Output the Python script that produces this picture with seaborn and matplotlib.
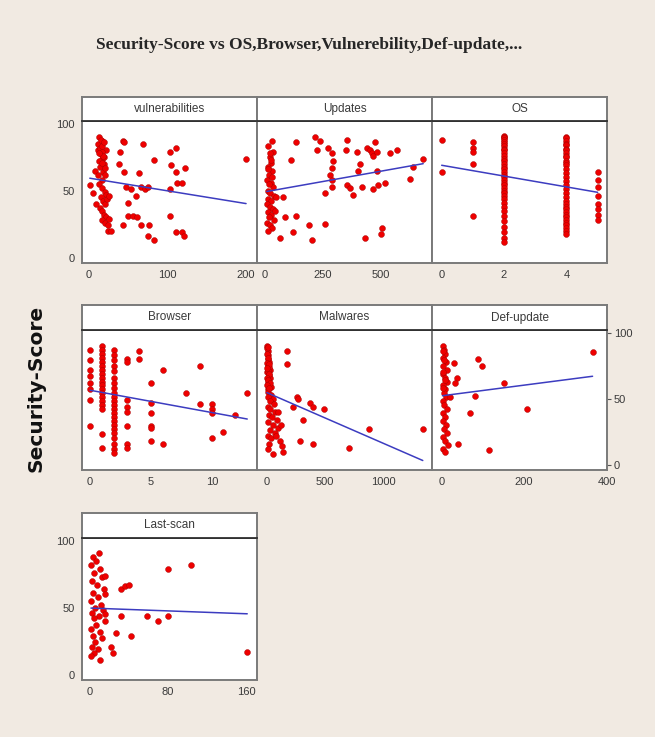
import numpy as np
import pandas as pd
import matplotlib
matplotlib.use("Agg")
import matplotlib.pyplot as plt
import seaborn as sns

# Data: (predictor value, Security-Score)
vulnerabilities = [(1, 54), (5, 48), (9, 40), (7, 65), (13, 90), (16, 87), (14, 84), (12, 80), (15, 77),
                   (17, 74), (19, 70), (14, 68), (18, 64), (21, 62), (16, 58), (13, 55), (17, 52), (20, 49),
                   (22, 47), (15, 45), (18, 42), (21, 40), (14, 37), (17, 35), (19, 32), (22, 30), (16, 28),
                   (20, 26), (24, 24), (24, 20), (28, 20), (23, 44), (26, 46), (25, 29), (19, 75), (22, 80),
                   (12, 85), (14, 82), (16, 79), (18, 76), (13, 72), (15, 88), (17, 83), (20, 67), (11, 62),
                   (13, 78), (16, 71), (19, 86),
                   (39, 79), (43, 87), (45, 86), (38, 70), (45, 64), (47, 53), (50, 41), (43, 24), (50, 31),
                   (56, 31), (62, 30), (54, 51), (60, 46), (64, 63), (69, 85), (66, 53), (71, 51), (75, 53),
                   (66, 24), (77, 24), (75, 16), (83, 13), (83, 73), (103, 79), (105, 69), (111, 82), (103, 51),
                   (103, 31), (111, 64), (113, 56), (119, 56), (123, 67), (111, 19), (119, 19), (122, 16),
                   (201, 74)]
updates = [(29, 87), (36, 79), (20, 75), (25, 71), (15, 68), (30, 65), (18, 62), (10, 58), (25, 56), (35, 53),
           (12, 50), (22, 48), (40, 46), (15, 44), (28, 42), (8, 40), (20, 38), (33, 36), (12, 34), (25, 32),
           (18, 30), (40, 28), (10, 26), (22, 24), (30, 22), (15, 20), (50, 45), (45, 35), (79, 45), (65, 15),
           (14, 83), (20, 78), (26, 73), (12, 66), (32, 60), (16, 55),
           (86, 30), (136, 86), (111, 73), (136, 31), (122, 19), (191, 24), (205, 13), (216, 90), (237, 87),
           (223, 80), (259, 25), (273, 82), (287, 78), (295, 72), (287, 67), (280, 62), (287, 58), (259, 48),
           (287, 53), (352, 88), (349, 80), (352, 54), (366, 52), (381, 47), (395, 79), (409, 70), (402, 65),
           (417, 53), (431, 15), (438, 82), (452, 80), (460, 78), (467, 76), (474, 86), (481, 79), (481, 65),
           (489, 54), (467, 51), (503, 22), (500, 18), (517, 56), (539, 78), (568, 80), (625, 59), (636, 68),
           (682, 74)]
os_ = [(0, 88), (0, 64), (1, 86), (1, 82), (1, 79), (1, 70), (1, 31),
       (2, 91), (2, 90), (2, 89), (2, 88), (2, 86), (2, 85), (2, 83), (2, 81), (2, 80), (2, 78), (2, 76),
       (2, 74), (2, 72), (2, 70), (2, 68), (2, 66), (2, 64), (2, 62), (2, 60), (2, 58), (2, 56), (2, 54),
       (2, 52), (2, 50), (2, 48), (2, 46), (2, 44), (2, 41), (2, 38), (2, 35), (2, 31), (2, 27), (2, 23),
       (2, 19), (2, 15), (2, 12),
       (4, 90), (4, 89), (4, 87), (4, 85), (4, 84), (4, 81), (4, 80), (4, 78), (4, 76), (4, 75), (4, 72),
       (4, 71), (4, 69), (4, 66), (4, 63), (4, 60), (4, 57), (4, 54), (4, 51), (4, 48), (4, 45), (4, 42),
       (4, 40), (4, 38), (4, 36), (4, 34), (4, 32), (4, 30), (4, 28), (4, 26), (4, 24), (4, 22), (4, 20),
       (4, 18),
       (5, 64), (5, 58), (5, 53), (5, 46), (5, 40), (5, 36), (5, 32), (5, 28)]
browser = [(0, 87), (0, 79), (0, 72), (0, 67), (0, 62), (0, 57), (0, 49), (0, 29),
           (1, 90), (1, 87), (1, 84), (1, 81), (1, 78), (1, 75), (1, 72), (1, 69), (1, 66), (1, 63), (1, 60),
           (1, 57), (1, 54), (1, 51), (1, 48), (1, 45), (1, 42), (1, 23), (1, 13),
           (2, 87), (2, 83), (2, 79), (2, 75), (2, 71), (2, 66), (2, 62), (2, 58), (2, 54), (2, 51), (2, 48),
           (2, 45), (2, 42), (2, 39), (2, 36), (2, 33), (2, 30), (2, 27), (2, 24), (2, 20), (2, 16), (2, 12),
           (2, 9),
           (3, 80), (3, 78), (3, 49), (3, 44), (3, 40), (3, 29), (3, 16), (3, 13),
           (4, 86), (4, 80),
           (5, 62), (5, 47), (5, 39), (5, 29), (5, 28), (5, 18),
           (6, 72), (6, 16), (7.9, 54), (9, 75), (9, 46), (10, 46), (10, 42), (10, 39), (10, 20),
           (10.9, 25), (11.9, 38), (12.9, 54)]
malwares = [(5, 90), (10, 86), (15, 83), (8, 80), (20, 78), (12, 75), (25, 72), (5, 70), (18, 68), (30, 66),
            (10, 63), (22, 61), (40, 59), (8, 57), (15, 55), (35, 53), (12, 51), (50, 50), (25, 48), (60, 46),
            (10, 44), (30, 42), (70, 40), (20, 38), (45, 36), (90, 34), (15, 32), (55, 30), (100, 28), (30, 26),
            (70, 24), (12, 22), (40, 20), (110, 18), (20, 16), (130, 14), (8, 12), (140, 10), (50, 8), (80, 22),
            (120, 30), (95, 40),
            (3, 88), (6, 84), (12, 81), (4, 77), (16, 74), (7, 71), (22, 69), (3, 66), (14, 64), (28, 62),
            (6, 60), (18, 58), (9, 89), (24, 76), (2, 73),
            (171, 86), (177, 76), (257, 51), (229, 44), (271, 50), (314, 34), (286, 18),
            (371, 47), (400, 44), (491, 42), (400, 16), (709, 13), (880, 27), (1337, 27)]
def_update = [(2, 90), (5, 87), (8, 84), (3, 81), (10, 78), (4, 75), (12, 72), (2, 69), (7, 66), (14, 63),
              (3, 60), (9, 57), (5, 54), (11, 51), (2, 48), (6, 45), (13, 42), (4, 39), (8, 36), (2, 33),
              (10, 30), (5, 27), (12, 24), (3, 21), (7, 18), (15, 15), (4, 12), (9, 10),
              (3, 86), (6, 79), (4, 70), (8, 64), (2, 58),
              (31, 77), (36, 66),
              (32, 62), (20, 51), (39, 16), (69, 39), (82, 52), (89, 80), (97, 75), (115, 11), (151, 62),
              (206, 42), (366, 85)]
last_scan = [(9, 91), (3, 88), (6, 85), (1, 82), (10, 79), (4, 76), (12, 73), (2, 70), (7, 67), (14, 64),
             (3, 61), (8, 58), (1, 55), (11, 52), (5, 50), (13, 48), (2, 46), (9, 44), (4, 42), (15, 40),
             (6, 37), (1, 34), (10, 32), (3, 29), (12, 27), (5, 24), (2, 21), (8, 19), (4, 16), (1, 14),
             (15, 74), (15, 60), (15, 45), (22, 21), (24, 16), (10, 11), (27, 31), (32, 64), (36, 66),
             (40, 67), (32, 44), (42, 29), (58, 44), (70, 40), (80, 44), (80, 79), (103, 82), (161, 17)]

panel_names = ["vulnerabilities", "Updates", "OS", "Browser", "Malwares", "Def-update", "Last-scan"]
panel_data = [vulnerabilities, updates, os_, browser, malwares, def_update, last_scan]
panel_xticks = [[0, 100, 200], [0, 250, 500], [0, 2, 4], [0, 5, 10], [0, 500, 1000], [0, 200, 400], [0, 80, 160]]
panel_xlim = [(-9, 215), (-34, 720), (-0.31, 5.3), (-0.66, 13.7), (-83, 1416), (-23.5, 401), (-8.2, 171)]
y_ticks = [0, 50, 100]

BG = "#F1EAE2"
W, H = 655, 737

def rect(left, top, right, bottom):
    return [left / W, 1 - bottom / H, (right - left) / W, (bottom - top) / H]

col_x = [(82, 257), (257, 432), (432, 607)]
row_y = [(97, 121, 263), (305, 330, 470), (513, 538, 680)]

sns.set_style("white")
plt.rcParams["font.family"] = ["DejaVu Sans"]

fig = plt.figure(figsize=(6.55, 7.37), dpi=100)
fig.patch.set_facecolor(BG)

tick_font = ["Liberation Sans Narrow", "Liberation Sans", "DejaVu Sans"]

for i, name in enumerate(panel_names):
    row, col = divmod(i, 3)
    x0, x1 = col_x[col]
    htop, hbot, pbot = row_y[row]

    ax = fig.add_axes(rect(x0, hbot, x1, pbot))
    df = pd.DataFrame(panel_data[i], columns=[name, "Security-Score"])
    sns.regplot(data=df, x=name, y="Security-Score", ax=ax, ci=None,
                scatter_kws=dict(s=18, color="#EE0000", edgecolor="#A00000", linewidths=0.3, alpha=1),
                line_kws=dict(color="#3C3CC0", lw=1.1))
    ax.set_facecolor("white")
    ax.set_xlim(panel_xlim[i])
    ax.set_ylim(-4, 102)
    ax.set_xticks(panel_xticks[i])
    ax.set_xlabel("")
    ax.set_ylabel("")
    ax.tick_params(direction="out", length=3, width=0.8, color="#555555",
                   labelsize=8, labelcolor="#3a3a3a", pad=2)
    if (row in (0, 2)) and col == 0:
        ax.set_yticks(y_ticks)
    elif row == 1 and col == 2:
        ax.set_yticks(y_ticks)
        ax.yaxis.tick_right()
    else:
        ax.set_yticks([])
    for lab in ax.get_xticklabels() + ax.get_yticklabels():
        lab.set_family(tick_font)
    for side in ["left", "right", "bottom"]:
        ax.spines[side].set_color("#7a7a7a")
        ax.spines[side].set_linewidth(1.4)
    ax.spines["top"].set_color("#303030")
    ax.spines["top"].set_linewidth(1.3)

    hax = fig.add_axes(rect(x0, htop, x1, hbot))
    hax.set_facecolor("white")
    hax.set_xticks([])
    hax.set_yticks([])
    for side in ["left", "right", "top"]:
        hax.spines[side].set_color("#7a7a7a")
        hax.spines[side].set_linewidth(1.4)
    hax.spines["bottom"].set_color("#303030")
    hax.spines["bottom"].set_linewidth(1.3)
    hax.text(0.5, 0.5, name, ha="center", va="center", fontsize=8.5,
             color="#3a3a3a", family=tick_font, transform=hax.transAxes)

fig.text(0.4725, 0.939, "Security-Score vs OS,Browser,Vulnerebility,Def-update,...",
         ha="center", va="center", fontsize=12.5, fontweight="bold",
         family=["Liberation Serif", "DejaVu Serif"])
fig.text(0.055, 0.473, "Security-Score", rotation=90, ha="center", va="center",
         fontsize=14.5, fontweight="bold", color="#111111")

fig.savefig("out.png", dpi=100, facecolor=BG)
